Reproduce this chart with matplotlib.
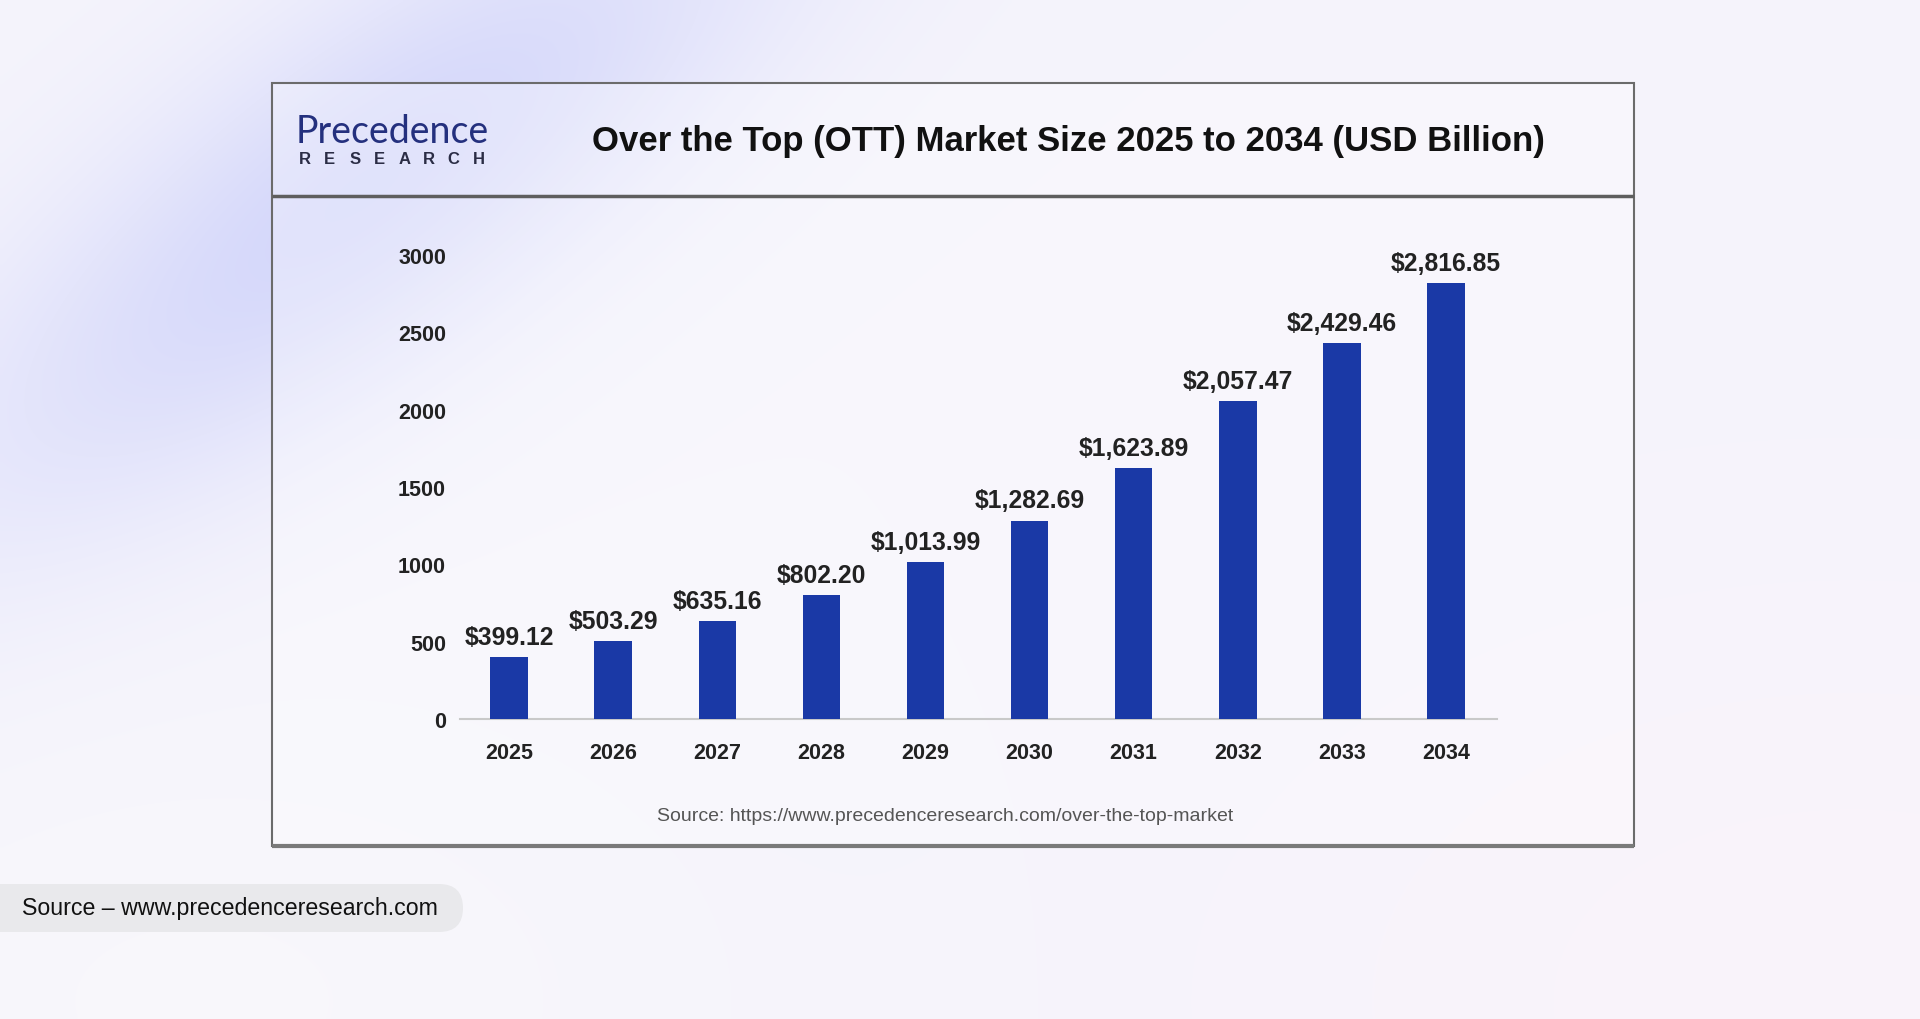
import numpy as np
import matplotlib
matplotlib.use("Agg")
import matplotlib.pyplot as plt
from matplotlib.patches import Rectangle, FancyBboxPatch

# ---------------- data ----------------
years = ["2025", "2026", "2027", "2028", "2029", "2030", "2031", "2032", "2033", "2034"]
values = [399.12, 503.29, 635.16, 802.20, 1013.99, 1282.69, 1623.89, 2057.47, 2429.46, 2816.85]
value_labels = ["$399.12", "$503.29", "$635.16", "$802.20", "$1,013.99", "$1,282.69",
                "$1,623.89", "$2,057.47", "$2,429.46", "$2,816.85"]
y_ticks = [0, 500, 1000, 1500, 2000, 2500, 3000]
title = "Over the Top (OTT) Market Size 2025 to 2034 (USD Billion)"
source_inner = "Source: https://www.precedenceresearch.com/over-the-top-market"
source_outer = "Source \u2013 www.precedenceresearch.com"
logo_top = "Precedence"
logo_bottom = "RESEARCH"

FONT = ["Liberation Sans", "DejaVu Sans"]
plt.rcParams["font.family"] = FONT

fig = plt.figure(figsize=(19.2, 10.2), dpi=100)

# ---------------- background (pixel coordinates) ----------------
bg = fig.add_axes([0, 0, 1, 1])
bg.set_xlim(0, 1920)
bg.set_ylim(1020, 0)
bg.axis("off")

H, W = 204, 384
yy, xx = np.mgrid[0:H, 0:W]
px = xx * 5.0
py = yy * 5.0
base = np.array([245, 244, 252]) / 255.0
img = np.ones((H, W, 3)) * base
# bluish diagonal glow (bottom-left to top)
dx = px - 360
dy = py - 190
ang = np.deg2rad(-37)
u = dx * np.cos(ang) + dy * np.sin(ang)
v = -dx * np.sin(ang) + dy * np.cos(ang)
g = np.exp(-((u / 520) ** 2 + (v / 170) ** 2))
blue = np.array([211, 214, 250]) / 255.0
img = img * (1 - 0.95 * g[..., None]) + blue * 0.95 * g[..., None]
# pinkish bottom right
g3 = np.exp(-(((px - 1850) / 700) ** 2 + ((py - 1000) / 450) ** 2))
pink = np.array([251, 243, 250]) / 255.0
img = img * (1 - 0.8 * g3[..., None]) + pink * 0.8 * g3[..., None]
# whiter bottom-left
g4 = np.exp(-(((px - 200) / 500) ** 2 + ((py - 1000) / 300) ** 2))
white = np.array([249, 248, 252]) / 255.0
img = img * (1 - 0.8 * g4[..., None]) + white * 0.8 * g4[..., None]
bg.imshow(img, extent=[0, 1920, 1020, 0], interpolation="bilinear", aspect="auto", zorder=0)

# card frame
bg.add_patch(Rectangle((272, 84), 1362, 763, facecolor=(1, 1, 1, 0.3),
                       edgecolor="#6b6b6b", lw=1.5, zorder=1))
bg.plot([272, 1634], [847, 847], color="#7a7a7a", lw=3, zorder=2, solid_capstyle="butt")
bg.plot([272, 1634], [197, 197], color="#5e5e5e", lw=2.5, zorder=2, solid_capstyle="butt")

# title
bg.text(1068, 141, title, ha="center", va="center", fontsize=25, fontweight="bold",
        color="#111111", zorder=3)

# logo
bg.text(296, 132, logo_top, ha="left", va="center", fontsize=27, family=["Lato", "DejaVu Sans"],
        color="#24307e", zorder=3)
for i, ch in enumerate(logo_bottom):
    bg.text(305 + i * 24.8, 159, ch, ha="center", va="center", fontsize=12, fontweight="bold",
            color="#2b2d45", zorder=3)

# inner source
bg.text(945, 817, source_inner, ha="center", va="center", fontsize=14, color="#555555", zorder=3)

# outer source pill
bg.add_patch(FancyBboxPatch((-40, 885), 503, 48, boxstyle="round,pad=0,rounding_size=24",
                            facecolor="#e9e9ec", edgecolor="none", zorder=2))
bg.text(22, 909, source_outer, ha="left", va="center", fontsize=16.7, color="#111111", zorder=3)

# ---------------- main chart ----------------
ax = fig.add_axes([460 / 1920, 1 - 720 / 1020, (1497 - 460) / 1920, (720 - 256) / 1020])
ax.patch.set_alpha(0)
x = np.arange(len(years))
ax.bar(x, values, width=0.36, color="#1a39a6", zorder=3)
ax.set_xlim(-0.471, 9.49)
ax.set_ylim(0, 3000)
ax.set_xticks(x, years)
ax.set_yticks(y_ticks, [str(t) for t in y_ticks])
for s in ["top", "right", "left"]:
    ax.spines[s].set_visible(False)
ax.spines["bottom"].set_color("#c9c9c9")
ax.spines["bottom"].set_linewidth(1.5)
ax.tick_params(axis="both", length=0, colors="#222222")
ax.tick_params(axis="x", pad=16.5)
ax.tick_params(axis="y", pad=10)
for lbl in ax.get_xticklabels() + ax.get_yticklabels():
    lbl.set_fontsize(15.5)
    lbl.set_fontweight("bold")

for xi, val, lab in zip(x, values, value_labels):
    ax.annotate(lab, (xi, val), xytext=(0, 14.5), textcoords="offset points",
                ha="center", va="center", fontsize=17.8, fontweight="bold",
                color="#222222", annotation_clip=False)

fig.savefig("out.png", dpi=100)
